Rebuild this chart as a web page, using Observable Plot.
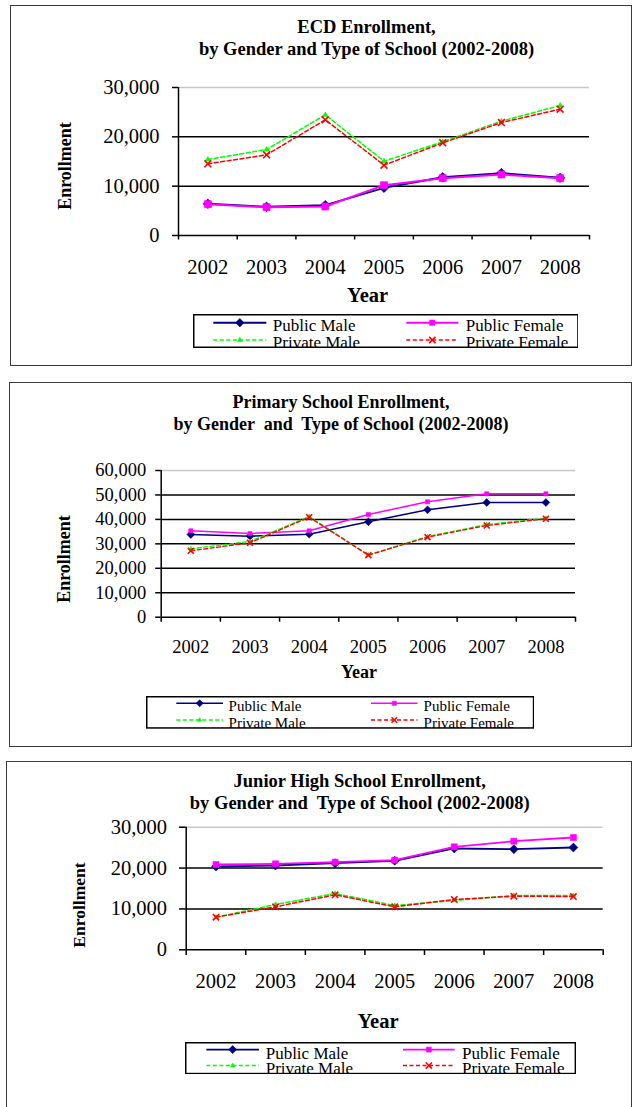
<!DOCTYPE html>
<html>
<head>
<meta charset="utf-8">
<script src="https://cdn.jsdelivr.net/npm/d3@7"></script>
<script src="https://cdn.jsdelivr.net/npm/@observablehq/plot@0.6"></script>
<style>
  body { margin: 0; background: #fff; }
  #root { position: relative; width: 632px; height: 1107px; overflow: hidden;
          font-family: "Liberation Serif", "Times New Roman", serif; color: #000; }
  .panel { position: absolute; border: 1.5px solid #3a3a3a; box-sizing: border-box; }
  .abs { position: absolute; white-space: pre; }
  .title { font-weight: bold; text-align: center; transform: translate(-50%, -50%); }
  .ylab { font-weight: bold; transform: translate(-50%, -50%) rotate(-90deg); }
  .xlab { font-weight: bold; transform: translate(-50%, -50%); }
  svg.plot { position: absolute; left: 0; }
  svg.legend { position: absolute; overflow: hidden; }
  svg.plot, svg.plot text, svg.legend text { font-family: "Liberation Serif", "Times New Roman", serif !important; }
</style>
</head>
<body>
<div id="root"></div>
<script>
// ---------- DATA ----------
const years = [2002, 2003, 2004, 2005, 2006, 2007, 2008];
const seriesNames = ["Public Male", "Public Female", "Private Male", "Private Female"];

const ecdPublicMale    = [6420, 5810, 6150, 9660, 11820, 12640, 11690];
const ecdPublicFemale  = [6350, 5740, 5880, 10200, 11620, 12370, 11620];
const ecdPrivateMale   = [15400, 17430, 24460, 15070, 18990, 23180, 26350];
const ecdPrivateFemale = [14530, 16350, 23450, 14260, 18780, 22900, 25610];

const primPublicMale    = [33820, 33130, 33950, 39020, 43930, 46910, 46910];
const primPublicFemale  = [35340, 34230, 35340, 42000, 47200, 50470, 50470];
const primPrivateMale   = [27980, 30960, 41190, 25520, 33010, 37910, 40490];
const primPrivateFemale = [27160, 30430, 40900, 25360, 32720, 37510, 40250];

const jhsPublicMale    = [20380, 20630, 21190, 21780, 24790, 24620, 25030];
const jhsPublicFemale  = [20870, 21040, 21440, 21930, 25200, 26570, 27480];
const jhsPrivateMale   = [7980, 11090, 13780, 10840, 12060, 13290, 13290];
const jhsPrivateFemale = [7980, 10520, 13460, 10520, 12310, 13120, 13040];

const ecdTicks  = [0, 10000, 20000, 30000];
const primTicks = [0, 10000, 20000, 30000, 40000, 50000, 60000];
const jhsTicks  = [0, 10000, 20000, 30000];

const ecdTitle  = ["ECD Enrollment,", "by Gender and Type of School (2002-2008)"];
const primTitle = ["Primary School Enrollment,", "by Gender  and  Type of School (2002-2008)"];
const jhsTitle  = ["Junior High School Enrollment,", "by Gender and  Type of School (2002-2008)"];
const yTitle = "Enrollment";
const xTitle = "Year";

// ---------- STYLES ----------
const seriesStyle = [
  {color: "#000080", dash: null,    symbol: "diamond2", fill: true},
  {color: "#FF00FF", dash: null,    symbol: "square",   fill: true},
  {color: "#00FF00", dash: "4,2.5", symbol: "triangle", fill: true},
  {color: "#FF0000", dash: "4,2.5", symbol: "times",    fill: false}
];

const panels = [
  {title: ecdTitle, series: [ecdPublicMale, ecdPublicFemale, ecdPrivateMale, ecdPrivateFemale], yTicks: ecdTicks,
   box: {left: 10, top: 5, bottom: 366}, plot: {x0: 178, x1: 589, y0: 87, y1: 235},
   tickFont: 20.5, yTickSize: 6, yTickPad: 13, xTickLen: 4.5, xLabelPad: 24,
   titleX: 366.5, titleY: [27, 49], titleFont: 18.5,
   yLab: {x: 64.5, y: 165.5, f: 18}, xLab: {x: 367.6, y: 295, f: 20.5},
   legend: {left: 192.7, top: 314, right: 578.4, bottom: 348, lineY: [322.7, 340], textY: [331, 347.6],
            cols: [[213, 266, 272.5], [406, 458, 465.5]], f: 17},
   r: [4.3, 4.0, 1.9, 3.2], lr: [3.8, 3.0, 1.8, 3.0], w: [2, 2, 1.5, 1.5]},
  {title: primTitle, series: [primPublicMale, primPublicFemale, primPrivateMale, primPrivateFemale], yTicks: primTicks,
   box: {left: 9, top: 382, bottom: 747}, plot: {x0: 160.7, x1: 575, y0: 470, y1: 616.7},
   tickFont: 18.5, yTickSize: 5.5, yTickPad: 9.5, xTickLen: 5, xLabelPad: 22.5,
   titleX: 341, titleY: [402.3, 424], titleFont: 18,
   yLab: {x: 64, y: 559, f: 18}, xLab: {x: 359, y: 671.7, f: 18},
   legend: {left: 145.7, top: 696, right: 534, bottom: 728.7, lineY: [703.3, 720], textY: [711, 727.8],
            cols: [[176, 222.7, 228.3], [370.7, 417.3, 423.3]], f: 15},
   r: [3.5, 2.3, 1.6, 2.8], lr: [3.2, 2.3, 1.5, 2.6], w: [1.5, 1.5, 1.3, 1.3]},
  {title: jhsTitle, series: [jhsPublicMale, jhsPublicFemale, jhsPrivateMale, jhsPrivateFemale], yTicks: jhsTicks,
   box: {left: 6, top: 761, bottom: 1130}, plot: {x0: 185.7, x1: 602.7, y0: 826.7, y1: 949.3},
   tickFont: 20.5, yTickSize: 6.7, yTickPad: 12.5, xTickLen: 5.7, xLabelPad: 24,
   titleX: 359.7, titleY: [780.7, 802.7], titleFont: 18.5,
   yLab: {x: 79.5, y: 904.5, f: 17.5}, xLab: {x: 378, y: 1020.7, f: 20.5},
   legend: {left: 185.3, top: 1041.7, right: 576.4, bottom: 1074, lineY: [1049.3, 1065.3], textY: [1058.3, 1074],
            cols: [[206.7, 259.3, 266], [403.3, 455, 462.3]], f: 17},
   r: [4.0, 3.4, 1.7, 3.0], lr: [3.6, 2.8, 1.7, 2.9], w: [1.8, 1.8, 1.5, 1.5]}
];

const root = document.getElementById("root");
const W = 632;

function addDiv(cls, x, y, text, style) {
  const d = document.createElement("div");
  d.className = "abs " + cls;
  d.style.left = x + "px";
  d.style.top = y + "px";
  Object.assign(d.style, style || {});
  d.textContent = text;
  root.appendChild(d);
  return d;
}

const symbolMap = {
  diamond2: d3.symbolDiamond2, square: d3.symbolSquare,
  triangle: d3.symbolTriangle, times: d3.symbolTimes
};

panels.forEach((p) => {
  // panel frame
  const fr = document.createElement("div");
  fr.className = "panel";
  fr.style.left = p.box.left + "px";
  fr.style.top = p.box.top + "px";
  fr.style.width = (631.5 - p.box.left) + "px";
  fr.style.height = (p.box.bottom - p.box.top) + "px";
  root.appendChild(fr);

  // tidy data
  const data = [];
  p.series.forEach((vals, si) => vals.forEach((v, i) => data.push({s: si, name: seriesNames[si], year: years[i], value: v})));

  const svgTop = p.box.top + 2;
  const svgH = p.box.bottom - svgTop - 2;
  const yMax = p.yTicks[p.yTicks.length - 1];
  const xDomain = [years[0] - 0.5, years[years.length - 1] + 0.5];
  const bounds = d3.range(years.length + 1).map(i => years[0] - 0.5 + i);

  const marks = [
    Plot.ruleY(p.yTicks.filter(t => t > 0 && t < yMax), {stroke: "#000", strokeWidth: 1.5}),
    Plot.ruleY([yMax], {stroke: "#c8c8c8", strokeWidth: 1.5}),
    Plot.ruleX([xDomain[0]], {stroke: "#000", strokeWidth: 1.5}),
    Plot.ruleY([0], {stroke: "#000", strokeWidth: 1.5}),
    Plot.axisY({ticks: p.yTicks, tickSize: p.yTickSize, tickPadding: p.yTickPad, tickFormat: d3.format(","),
                fontSize: p.tickFont, strokeWidth: 1.5, label: null}),
    Plot.axisX({ticks: bounds, tickSize: p.xTickLen, tickFormat: () => "", strokeWidth: 1.5, label: null}),
    Plot.axisX({ticks: years, tickSize: 0, tickPadding: p.xLabelPad, tickFormat: d => String(d),
                fontSize: p.tickFont, label: null})
  ];
  seriesStyle.forEach((st, si) => {
    const sd = data.filter(d => d.s === si);
    marks.push(Plot.line(sd, {x: "year", y: "value", stroke: st.color, strokeWidth: p.w[si],
                              strokeDasharray: st.dash}));
    marks.push(Plot.dot(sd, {x: "year", y: "value", symbol: st.symbol, r: p.r[si],
                             fill: st.fill ? st.color : "none", stroke: st.color,
                             strokeWidth: st.fill ? 0.6 : 1.6}));
  });

  const chart = Plot.plot({
    width: W, height: svgH,
    marginLeft: p.plot.x0, marginRight: W - p.plot.x1,
    marginTop: p.plot.y0 - svgTop, marginBottom: svgTop + svgH - p.plot.y1,
    x: {type: "linear", domain: xDomain, axis: null},
    y: {type: "linear", domain: [0, yMax], axis: null},
    style: {fontFamily: "'Liberation Serif', 'Times New Roman', serif", color: "#000", background: "transparent", overflow: "visible"},
    marks
  });
  chart.classList.add("plot");
  chart.style.top = svgTop + "px";
  root.appendChild(chart);

  // titles
  p.title.forEach((t, i) => addDiv("title", p.titleX, p.titleY[i], t, {fontSize: p.titleFont + "px", lineHeight: "1"}));
  addDiv("ylab", p.yLab.x, p.yLab.y, yTitle, {fontSize: p.yLab.f + "px", lineHeight: "1"});
  addDiv("xlab", p.xLab.x, p.xLab.y, xTitle, {fontSize: p.xLab.f + "px", lineHeight: "1"});

  // legend
  const L = p.legend;
  const lw = L.right - L.left, lh = L.bottom - L.top;
  const svg = d3.create("svg").attr("class", "legend")
    .attr("width", lw).attr("height", lh)
    .style("left", L.left + "px").style("top", L.top + "px");
  svg.append("rect").attr("x", 0).attr("y", 0).attr("width", lw).attr("height", lh).attr("fill", "#fff");
  const order = [[0, 0, 0], [1, 0, 1], [2, 1, 0], [3, 1, 1]]; // series, row, col
  order.forEach(([si, row, col]) => {
    const st = seriesStyle[si];
    const [lx0, lx1, tx] = L.cols[col];
    const ly = L.lineY[row] - L.top;
    svg.append("line").attr("x1", lx0 - L.left).attr("x2", lx1 - L.left).attr("y1", ly).attr("y2", ly)
      .attr("stroke", st.color).attr("stroke-width", p.w[si])
      .attr("stroke-dasharray", st.dash);
    const size = Math.PI * p.lr[si] ** 2;
    svg.append("path").attr("d", d3.symbol(symbolMap[st.symbol], size)())
      .attr("transform", `translate(${(lx0 + lx1) / 2 - L.left},${ly})`)
      .attr("fill", st.fill ? st.color : "none").attr("stroke", st.color)
      .attr("stroke-width", st.fill ? 0.6 : 1.6);
    svg.append("text").attr("x", tx - L.left).attr("y", L.textY[row] - L.top)
      .attr("font-size", L.f).attr("fill", "#000").text(seriesNames[si]);
  });
  svg.append("rect").attr("x", 0.75).attr("y", 0.75).attr("width", lw - 1.5).attr("height", lh - 1.5)
    .attr("fill", "none").attr("stroke", "#000").attr("stroke-width", 1.5);
  root.appendChild(svg.node());
});
</script>
</body>
</html>
